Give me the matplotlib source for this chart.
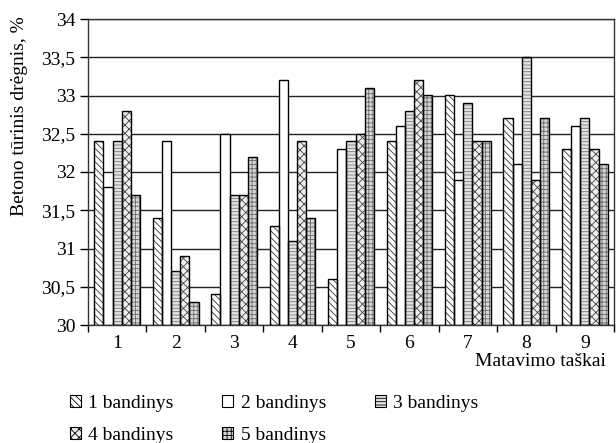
import matplotlib
matplotlib.use('Agg')
import matplotlib.pyplot as plt
from matplotlib.patches import Patch
import numpy as np

# duomenys (nuskaityti is paveikslo)
taskai = ['1', '2', '3', '4', '5', '6', '7', '8', '9']
bandinys1 = [32.4, 31.4, 30.4, 31.3, 30.6, 32.4, 33.0, 32.7, 32.3]
bandinys2 = [31.8, 32.4, 32.5, 33.2, 32.3, 32.6, 31.9, 32.1, 32.6]
bandinys3 = [32.4, 30.7, 31.7, 31.1, 32.4, 32.8, 32.9, 33.5, 32.7]
bandinys4 = [32.8, 30.9, 31.7, 32.4, 32.5, 33.2, 32.4, 31.9, 32.3]
bandinys5 = [31.7, 30.3, 32.2, 31.4, 33.1, 33.0, 32.4, 32.7, 32.1]
pavadinimai = ['1 bandinys', '2 bandinys', '3 bandinys', '4 bandinys', '5 bandinys']

serijos = [bandinys1, bandinys2, bandinys3, bandinys4, bandinys5]
fonai = ['white', 'white', '#e2e2e2', '#eeeeee', '#d6d6d6']
rastai = ['\\\\\\\\\\', '', '-----', 'xxxx', '++++']
rasto_spalvos = ['#333333', '#333333', '#7a7a7a', '#444444', '#6a6a6a']

plt.rcParams['font.family'] = ['Liberation Serif', 'DejaVu Serif']
plt.rcParams['font.size'] = 14
plt.rcParams['hatch.linewidth'] = 0.6

fig = plt.figure(figsize=(6.16, 4.43), dpi=100)
ax = fig.add_axes([88/616, 1-325/443, 526/616, 306/443])

x = np.arange(1, len(taskai) + 1)
plotis = 0.157
for i, vals in enumerate(serijos):
    poz = x + (i - 2) * plotis
    aukstis = np.array(vals) - 30
    # uzpildas su rastu
    ax.bar(poz, aukstis, plotis, bottom=30, color=fonai[i], hatch=rastai[i],
           edgecolor=rasto_spalvos[i], linewidth=0, zorder=2)
    # konturas
    ax.bar(poz, aukstis, plotis, bottom=30, facecolor='none',
           edgecolor='black', linewidth=1, zorder=3)

ax.set_xlim(0.5, 9.5)
ax.set_ylim(30, 34)
yt = np.arange(30, 34.01, 0.5)
ax.set_yticks(yt)
ax.set_yticklabels([('%g' % v).replace('.', ',') for v in yt])
ax.set_xticks(x)
ax.set_xticklabels(taskai)
ax.set_xticks(np.arange(0.5, 9.6, 1), minor=True)
ax.tick_params(axis='x', which='major', length=0, pad=7)
ax.tick_params(axis='x', which='minor', length=5, width=1, direction='out')
ax.tick_params(axis='y', length=6, width=1, direction='out', pad=3)

ax.set_axisbelow(True)
ax.yaxis.grid(True, color='#222222', linewidth=1)
for s in ax.spines.values():
    s.set_color('#333333')
    s.set_linewidth(1)

fig.text(20/616, 1-116/443, 'Betono tūrinis drėgnis, %', rotation=90,
         ha='center', va='center')
fig.text(606/616, 1-362/443, 'Matavimo taškai', ha='right', va='center')

rankenos = [Patch(facecolor=fonai[i], edgecolor='black', hatch=rastai[i],
                  linewidth=0.8, label=pavadinimai[i]) for i in range(5)]
tvarka = [0, 3, 1, 4, 2]
fig.legend([rankenos[i] for i in tvarka], [pavadinimai[i] for i in tvarka],
           ncol=3, loc='upper left', bbox_to_anchor=(70/616, 1-395/443),
           frameon=False, borderpad=0, borderaxespad=0,
           handlelength=0.55, handleheight=0.55, handletextpad=0.4,
           columnspacing=2.5, labelspacing=0.75)

fig.savefig('out.png', dpi=100)
